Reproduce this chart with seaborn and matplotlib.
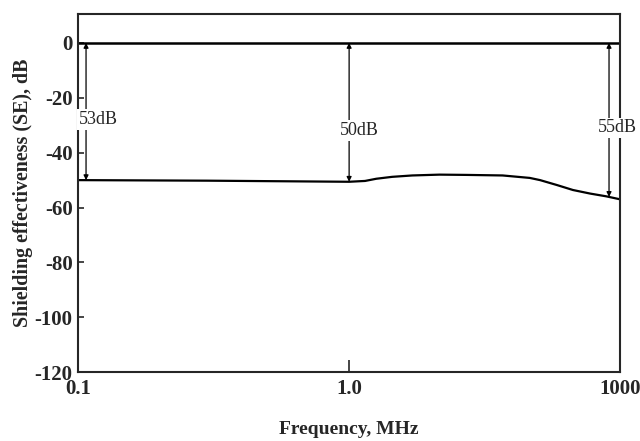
import numpy as np
import pandas as pd
import matplotlib
matplotlib.use("Agg")
import matplotlib.pyplot as plt
import seaborn as sns

# Dados (frequência em MHz, SE em dB)
freq = [0.1, 0.3, 1.0, 1.5, 2.0, 3.0, 5.0, 10.0, 20.0, 50.0, 100.0, 130.0,
        200.0, 300.0, 465.0, 700.0, 1000.0]
se = [-50.0, -50.2, -50.6, -50.3, -49.5, -48.8, -48.3, -48.0, -48.1, -48.3,
      -49.2, -50.0, -51.8, -53.6, -54.9, -55.9, -57.0]
ref_level = 0.0

# Setas de diferença
seta_freq = [0.107, 1.0, 753.0]
seta_rotulo = ["53dB", "50dB", "55dB"]
seta_texto_y = [-28, -32, -31]
seta_texto_dx = [-5, -7, -8]

xticks = [0.1, 1.0, 1000.0]
xtick_labels = ["0.1", "1.0", "1000"]
yticks = [0, -20, -40, -60, -80, -100, -120]


def fwd(f):
    f = np.asarray(f, dtype=float)
    lf = np.log10(np.clip(f, 1e-6, None))
    return np.where(lf <= 0, lf + 1, 1 + lf / 3)


def inv(u):
    u = np.asarray(u, dtype=float)
    return np.where(u <= 1, 10 ** (u - 1), 10 ** (3 * (u - 1)))


sns.set_style("ticks")
plt.rcParams["font.family"] = ["Liberation Serif", "DejaVu Serif"]
plt.rcParams["axes.unicode_minus"] = False

df = pd.DataFrame({"freq": freq, "se": se})
df_ref = pd.DataFrame({"freq": [0.1, 1000.0], "se": [ref_level, ref_level]})

fig = plt.figure(figsize=(6.4, 4.41), dpi=100)
ax = fig.add_axes([0.122, 0.156, 0.847, 0.812])
ax.set_xscale("function", functions=(fwd, inv))

sns.lineplot(data=df_ref, x="freq", y="se", color="black", lw=1.8, ax=ax)
sns.lineplot(data=df, x="freq", y="se", color="black", lw=1.6, ax=ax)

se_interp = np.interp(fwd(seta_freq), fwd(freq), se)
for xf, yb, lab, ty, dx in zip(seta_freq, se_interp, seta_rotulo, seta_texto_y, seta_texto_dx):
    ax.annotate("", xy=(xf, yb), xytext=(xf, ref_level),
                arrowprops=dict(arrowstyle="<|-|>", color="black", lw=0.9,
                                mutation_scale=7, shrinkA=0, shrinkB=0))
    ax.annotate(lab, xy=(xf, ty), xytext=(dx, 0), textcoords="offset points",
                ha="left", va="center", fontsize=13,
                bbox=dict(boxstyle="square,pad=0.1", fc="white", ec="none"))

ax.set_xlim(0.1, 1000)
ax.set_ylim(-120, 10.5)
ax.set_xticks(xticks)
ax.set_xticklabels(xtick_labels)
ax.set_yticks(yticks)
ax.set_yticklabels([str(v) for v in yticks])
ax.tick_params(axis="x", direction="in", length=9, width=1.2, labelsize=15, pad=5)
ax.tick_params(axis="y", direction="in", length=4, width=1.2, labelsize=15, pad=4)
for lab in ax.get_xticklabels() + ax.get_yticklabels():
    lab.set_fontweight("bold")
for s in ax.spines.values():
    s.set_linewidth(1.5)
    s.set_visible(True)

ax.set_xlabel("Frequency, MHz", fontsize=14, fontweight="bold", labelpad=16)
ax.set_ylabel("Shielding effectiveness (SE), dB", fontsize=14.4, fontweight="bold", labelpad=1)

fig.savefig("out.png", dpi=100)
plt.close(fig)
